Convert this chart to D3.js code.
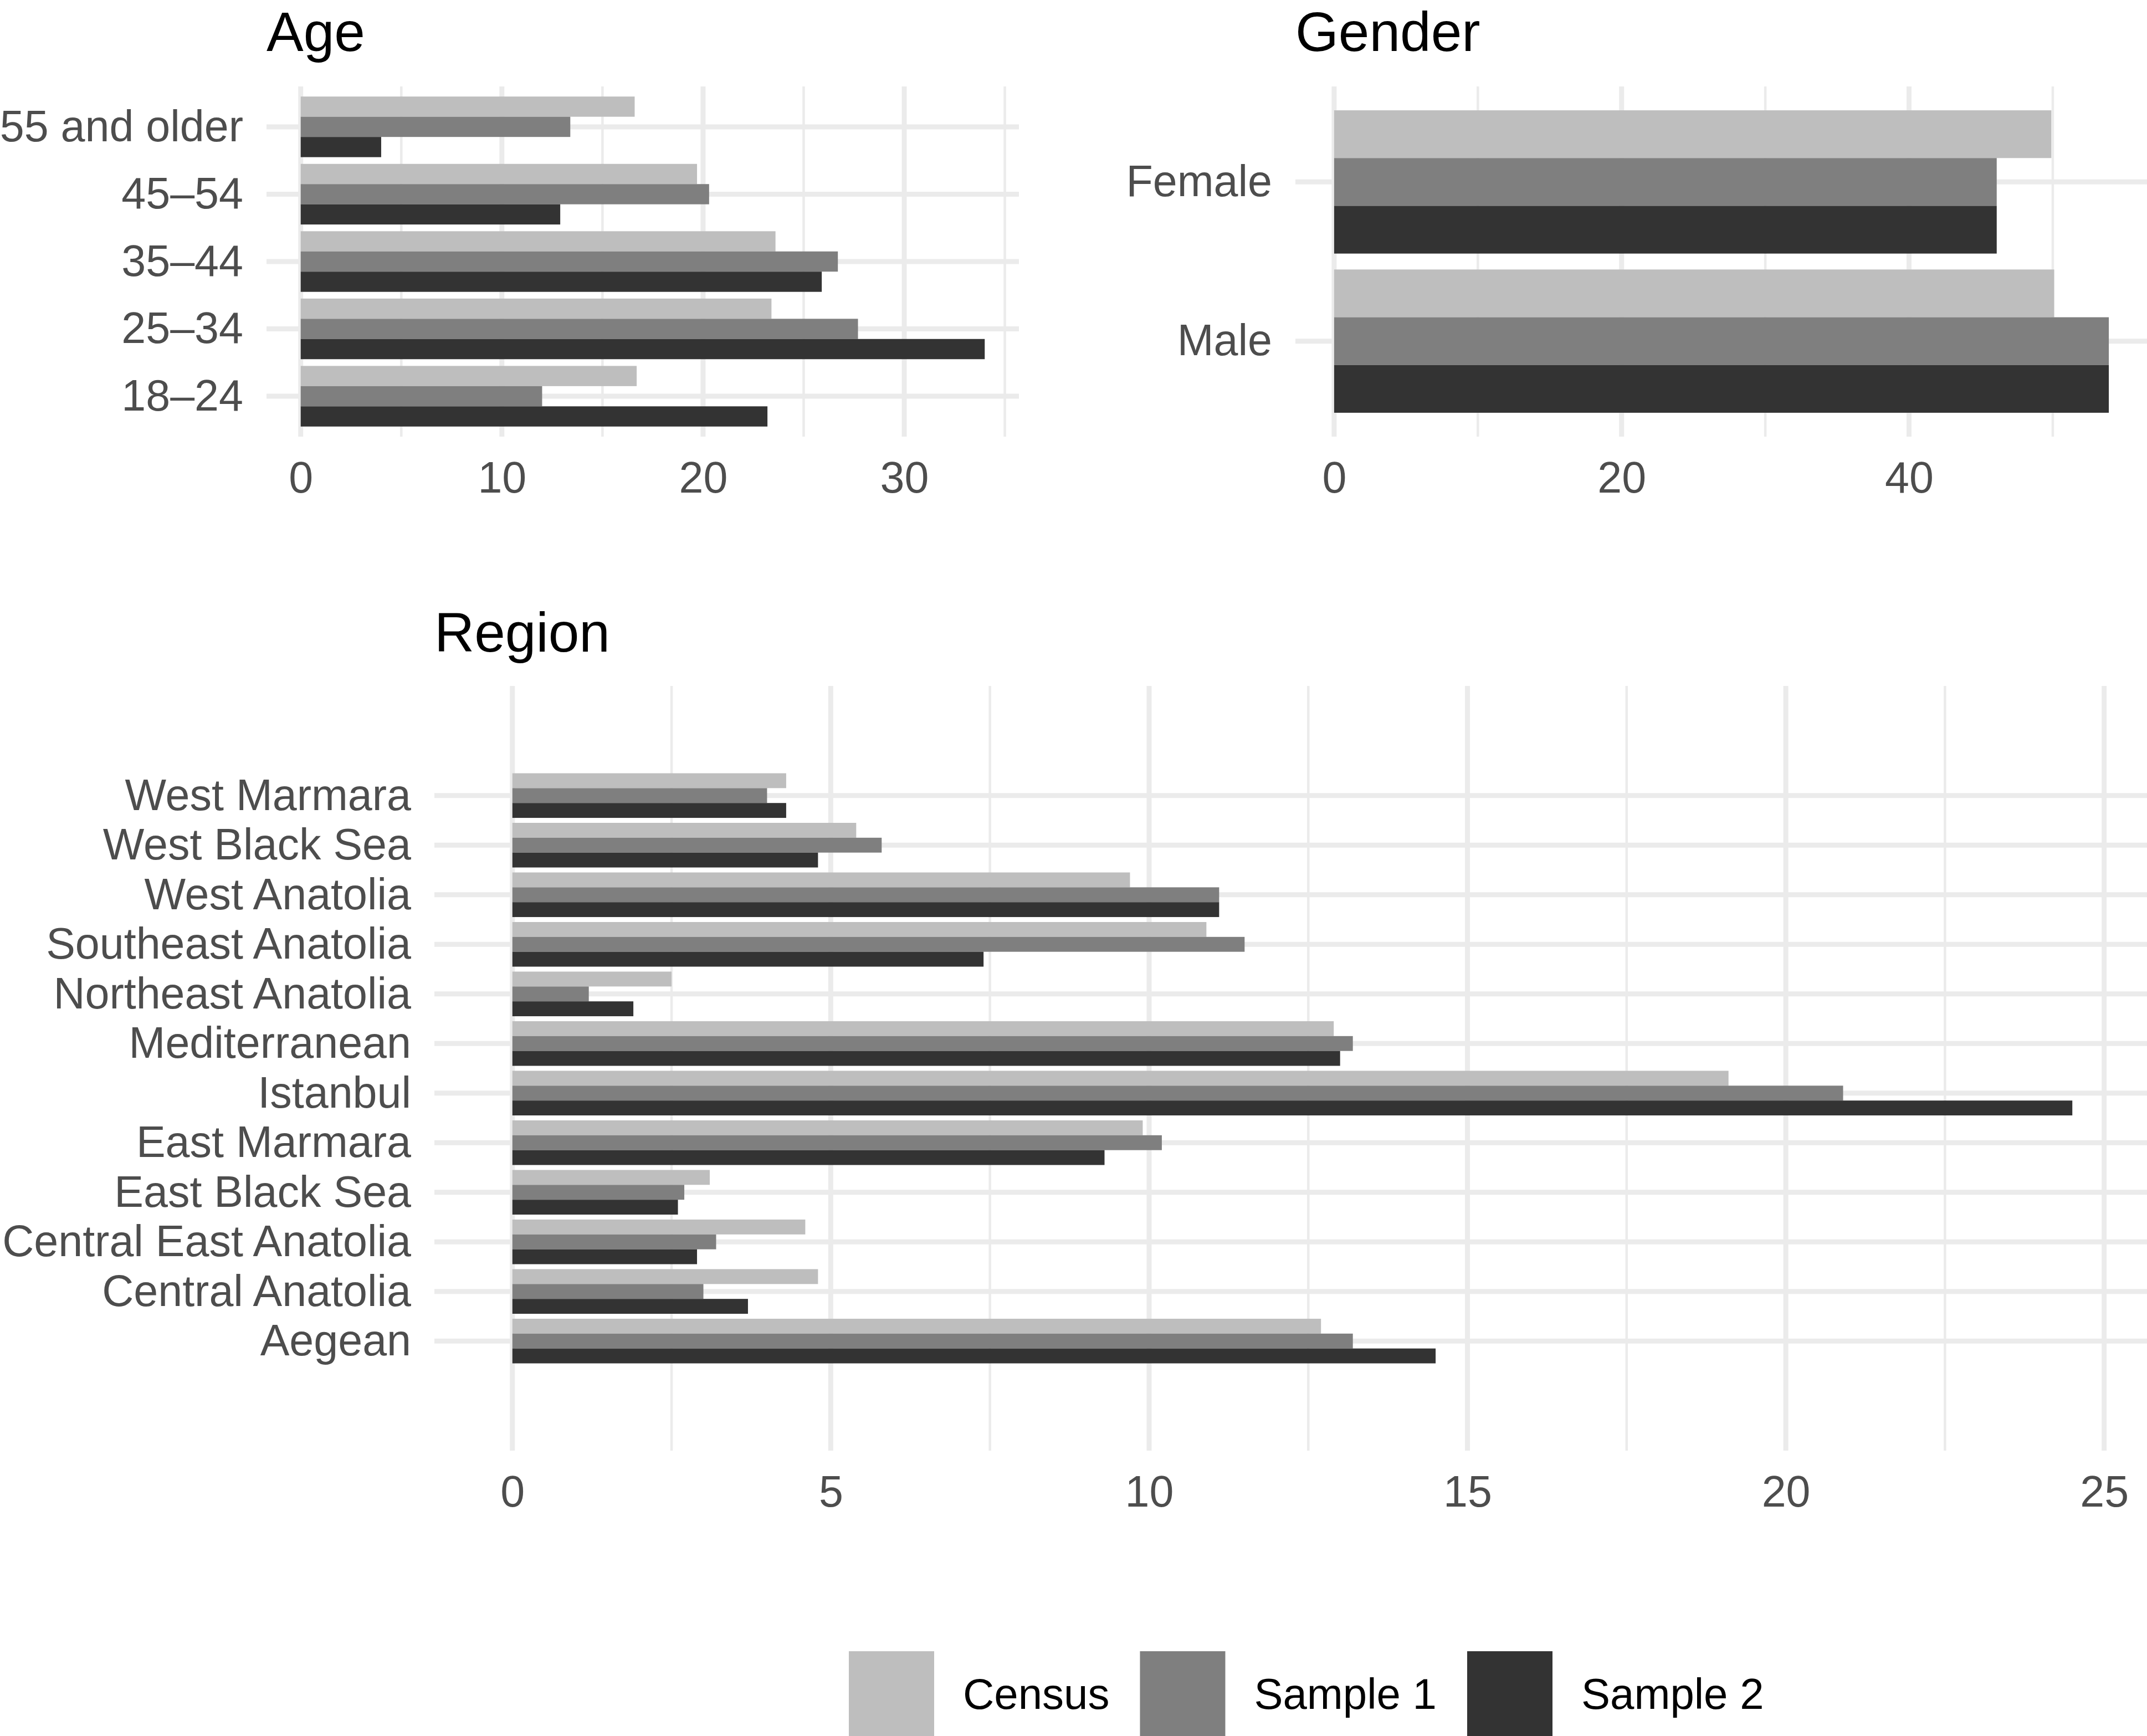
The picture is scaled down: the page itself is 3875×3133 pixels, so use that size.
<!DOCTYPE html>
<html>
<head>
<meta charset="utf-8">
<script src="https://cdn.jsdelivr.net/npm/d3@7"></script>
<style>
body { margin: 0; background: #fff; }
svg { display: block; font-family: "Liberation Sans", Arial, Helvetica, sans-serif; }
</style>
</head>
<body>
<svg width="3875" height="3133"></svg>
<script>
// series shown in every panel
var series = ["Census", "Sample 1", "Sample 2"];

// Age (top to bottom)
var ageGroups = ["55 and older", "45–54", "35–44", "25–34", "18–24"];
var ageCensus  = [16.6, 19.7, 23.6, 23.4, 16.7];
var ageSample1 = [13.4, 20.3, 26.7, 27.7, 12.0];
var ageSample2 = [4.0, 12.9, 25.9, 34.0, 23.2];
var ageTicks = [0, 10, 20, 30];

// Gender
var genders = ["Female", "Male"];
var genderCensus  = [49.9, 50.1];
var genderSample1 = [46.1, 53.9];
var genderSample2 = [46.1, 53.9];
var genderTicks = [0, 20, 40];

// Region (top to bottom)
var regions = ["West Marmara", "West Black Sea", "West Anatolia", "Southeast Anatolia",
  "Northeast Anatolia", "Mediterranean", "Istanbul", "East Marmara", "East Black Sea",
  "Central East Anatolia", "Central Anatolia", "Aegean"];
var regionCensus  = [4.3, 5.4, 9.7, 10.9, 2.5, 12.9, 19.1, 9.9, 3.1, 4.6, 4.8, 12.7];
var regionSample1 = [4.0, 5.8, 11.1, 11.5, 1.2, 13.2, 20.9, 10.2, 2.7, 3.2, 3.0, 13.2];
var regionSample2 = [4.3, 4.8, 11.1, 7.4, 1.9, 13.0, 24.5, 9.3, 2.6, 2.9, 3.7, 14.5];
var regionTicks = [0, 5, 10, 15, 20, 25];

var svg = d3.select("svg");

var color = d3.scaleOrdinal()
  .domain(series)
  .range(["#BEBEBE", "#7F7F7F", "#333333"]);

var gridColor = "#EBEBEB";
var axisFont = 79;
var titleFont = 100;

function panel(o) {
  var g = svg.append("g");
  var rows = o.cats.map(function(c, i) {
    return {cat: c, values: series.map(function(s, j) { return {key: s, value: o.values[j][i]}; })};
  });
  var max = d3.max(o.values, function(a) { return d3.max(a); });
  var x = d3.scaleLinear()
    .domain([-0.05 * max, max * 1.05])
    .range([o.left, o.right]);
  var y = d3.scalePoint()
    .domain(o.cats)
    .range([o.top, o.bottom])
    .padding(o.pad);
  var step = y.step();
  var inner = d3.scaleBand()
    .domain(series)
    .range([-0.45 * step, 0.45 * step]);

  // minor grid (halfway between major ticks)
  var minor = [];
  for (var i = 0; i < o.ticks.length; i++) {
    var t = o.ticks[i] + (o.ticks[1] - o.ticks[0]) / 2;
    if (x(t) <= o.right) minor.push(t);
  }
  g.append("g").selectAll("line")
    .data(minor)
    .enter().append("line")
      .attr("x1", function(d) { return x(d); })
      .attr("x2", function(d) { return x(d); })
      .attr("y1", o.top)
      .attr("y2", o.bottom)
      .attr("stroke", gridColor)
      .attr("stroke-width", 4.5);

  g.append("g").selectAll("line")
    .data(o.ticks)
    .enter().append("line")
      .attr("x1", function(d) { return x(d); })
      .attr("x2", function(d) { return x(d); })
      .attr("y1", o.top)
      .attr("y2", o.bottom)
      .attr("stroke", gridColor)
      .attr("stroke-width", 9);

  g.append("g").selectAll("line")
    .data(o.cats)
    .enter().append("line")
      .attr("x1", o.left)
      .attr("x2", o.right)
      .attr("y1", function(d) { return y(d); })
      .attr("y2", function(d) { return y(d); })
      .attr("stroke", gridColor)
      .attr("stroke-width", 9);

  g.append("g")
    .selectAll("g")
    .data(rows)
    .enter().append("g")
      .attr("transform", function(d) { return "translate(0," + y(d.cat) + ")"; })
    .selectAll("rect")
    .data(function(d) { return d.values; })
    .enter().append("rect")
      .attr("x", x(0))
      .attr("y", function(d) { return inner(d.key); })
      .attr("width", function(d) { return x(d.value) - x(0); })
      .attr("height", inner.bandwidth())
      .attr("fill", function(d) { return color(d.key); });

  var xa = g.append("g")
    .attr("transform", "translate(0," + o.bottom + ")")
    .call(d3.axisBottom(x).tickValues(o.ticks).tickSize(0).tickPadding(45));
  var ya = g.append("g")
    .attr("transform", "translate(" + o.left + ",0)")
    .call(d3.axisLeft(y).tickSize(0).tickPadding(42));
  [xa, ya].forEach(function(a) {
    a.select(".domain").remove();
    a.selectAll("text")
      .attr("font-family", null)
      .attr("font-size", axisFont)
      .attr("fill", "#4D4D4D");
  });

  g.append("text")
    .attr("x", o.left)
    .attr("y", o.titleY)
    .attr("font-size", titleFont)
    .attr("fill", "#000")
    .text(o.title);
}

panel({title: "Age", cats: ageGroups, values: [ageCensus, ageSample1, ageSample2],
  ticks: ageTicks, left: 481, right: 1839, top: 156, bottom: 788, pad: 0.6, titleY: 92});

panel({title: "Gender", cats: genders, values: [genderCensus, genderSample1, genderSample2],
  ticks: genderTicks, left: 2338, right: 3876, top: 156, bottom: 788, pad: 0.6, titleY: 92});

panel({title: "Region", cats: regions, values: [regionCensus, regionSample1, regionSample2],
  ticks: regionTicks, left: 784, right: 3881, top: 1238, bottom: 2618, pad: 2.21, titleY: 1176});

// legend
var legend = svg.append("g")
  .attr("font-size", 78);
var lx = 1532;
series.forEach(function(s) {
  legend.append("rect")
    .attr("x", lx)
    .attr("y", 2980)
    .attr("width", 154)
    .attr("height", 153)
    .attr("fill", color(s));
  var t = legend.append("text")
    .attr("x", lx + 154 + 52)
    .attr("y", 3057)
    .attr("dy", "0.35em")
    .attr("fill", "#000")
    .text(s);
  lx += 154 + 52 + t.node().getComputedTextLength() + 55;
});
</script>
</body>
</html>
